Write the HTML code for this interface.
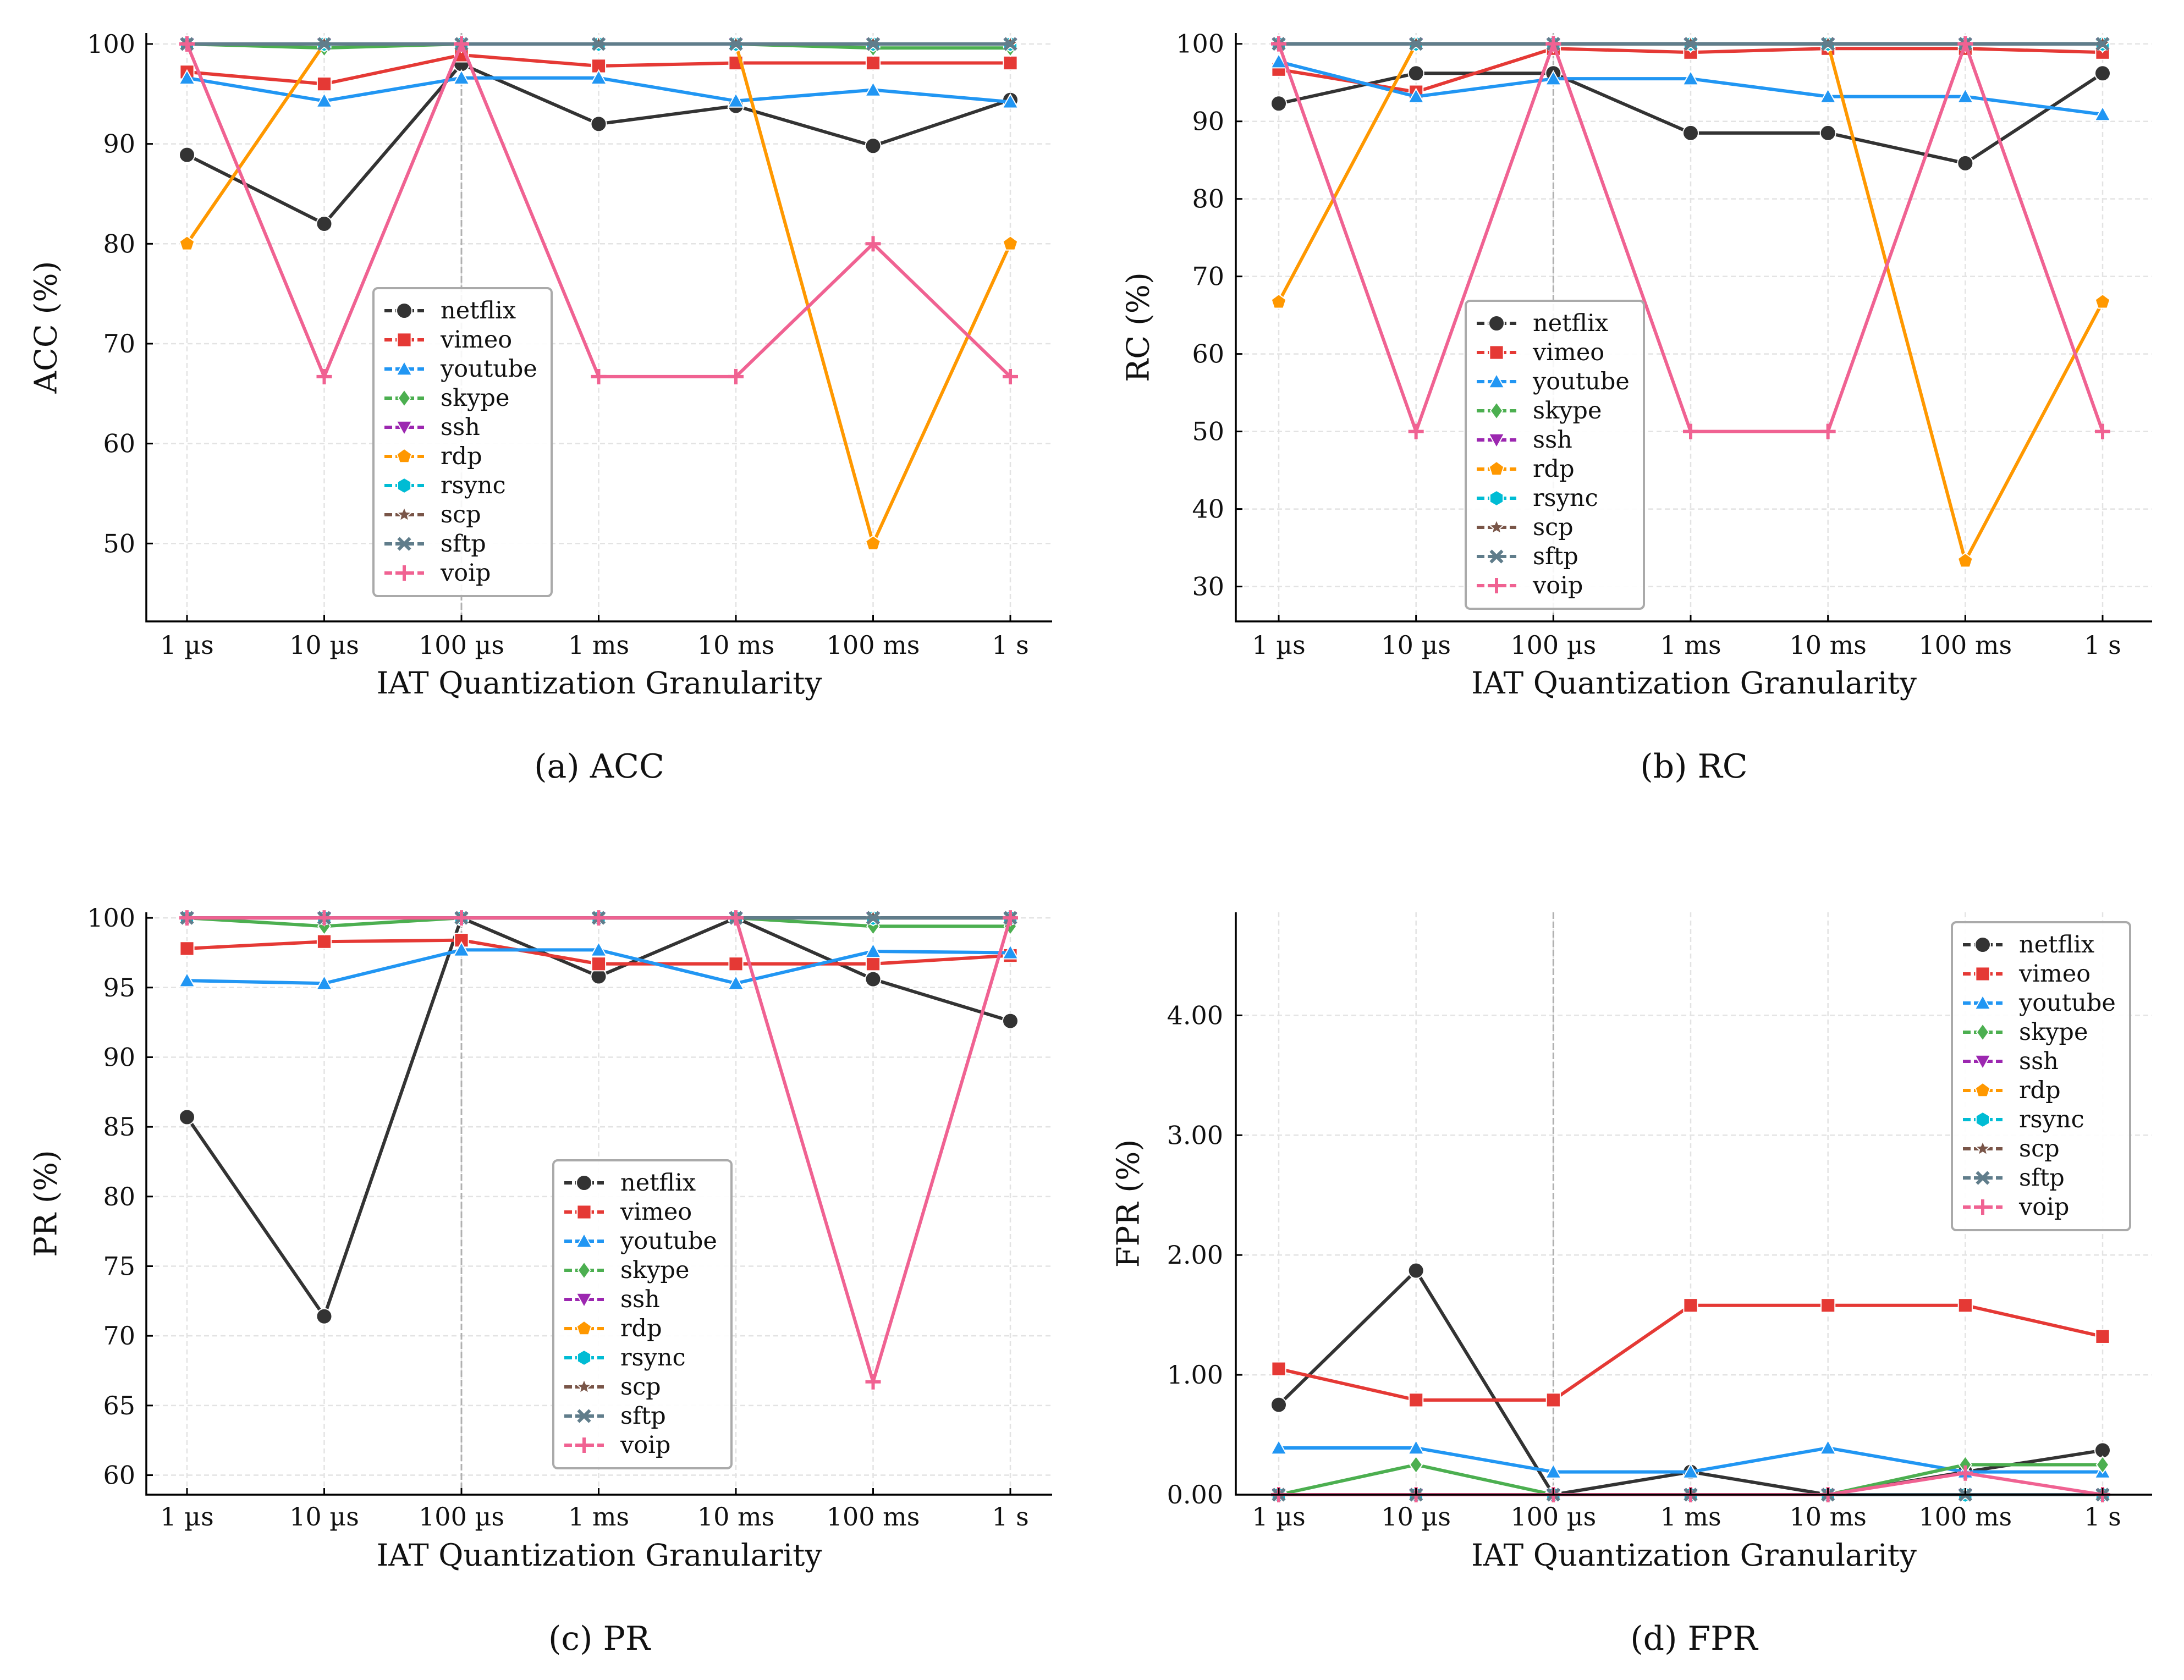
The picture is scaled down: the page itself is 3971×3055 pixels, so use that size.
<!DOCTYPE html>
<html><head><meta charset="utf-8"><style>
html,body{margin:0;padding:0;background:#fff;}
svg{display:block;font-family:"DejaVu Serif","Liberation Serif",serif;}
</style></head><body>
<svg id="chart" width="3971" height="3055" viewBox="0 0 3971 3055" xmlns="http://www.w3.org/2000/svg"></svg>
<script>
const categories = ["1 µs","10 µs","100 µs","1 ms","10 ms","100 ms","1 s"];
const seriesNames = ["netflix","vimeo","youtube","skype","ssh","rdp","rsync","scp","sftp","voip"];
const accNetflix = [88.9,82,98,92,93.8,89.8,94.4];
const accVimeo = [97.2,96,98.9,97.8,98.1,98.1,98.1];
const accYoutube = [96.6,94.3,96.6,96.6,94.3,95.4,94.2];
const accSkype = [100,99.6,100,100,100,99.6,99.6];
const accSsh = [100,100,100,100,100,100,100];
const accRdp = [80,100,100,100,100,50,80];
const accRsync = [100,100,100,100,100,100,100];
const accScp = [100,100,100,100,100,100,100];
const accSftp = [100,100,100,100,100,100,100];
const accVoip = [100,66.7,100,66.7,66.7,80,66.7];
const rcNetflix = [92.3,96.2,96.2,88.5,88.5,84.6,96.2];
const rcVimeo = [96.7,93.8,99.4,98.9,99.4,99.4,98.9];
const rcYoutube = [97.7,93.2,95.5,95.5,93.2,93.2,90.9];
const rcSkype = [100,100,100,100,100,100,100];
const rcSsh = [100,100,100,100,100,100,100];
const rcRdp = [66.7,100,100,100,100,33.3,66.7];
const rcRsync = [100,100,100,100,100,100,100];
const rcScp = [100,100,100,100,100,100,100];
const rcSftp = [100,100,100,100,100,100,100];
const rcVoip = [100,50,100,50,50,100,50];
const prNetflix = [85.7,71.4,100,95.8,100,95.6,92.6];
const prVimeo = [97.8,98.3,98.4,96.7,96.7,96.7,97.3];
const prYoutube = [95.5,95.3,97.7,97.7,95.3,97.6,97.5];
const prSkype = [100,99.4,100,100,100,99.4,99.4];
const prSsh = [100,100,100,100,100,100,100];
const prRdp = [100,100,100,100,100,100,100];
const prRsync = [100,100,100,100,100,100,100];
const prScp = [100,100,100,100,100,100,100];
const prSftp = [100,100,100,100,100,100,100];
const prVoip = [100,100,100,100,100,66.7,100];
const fprNetflix = [0.75,1.87,0,0.19,0,0.19,0.37];
const fprVimeo = [1.05,0.79,0.79,1.58,1.58,1.58,1.32];
const fprYoutube = [0.39,0.39,0.19,0.19,0.39,0.19,0.19];
const fprSkype = [0,0.25,0,0,0,0.25,0.25];
const fprSsh = [0,0,0,0,0,0,0];
const fprRdp = [0,0,0,0,0,0,0];
const fprRsync = [0,0,0,0,0,0,0];
const fprScp = [0,0,0,0,0,0,0];
const fprSftp = [0,0,0,0,0,0,0];
const fprVoip = [0,0,0,0,0,0.18,0];
const accTicks = [50,60,70,80,90,100];
const rcTicks = [30,40,50,60,70,80,90,100];
const prTicks = [60,65,70,75,80,85,90,95,100];
const fprTicks = [0,1,2,3,4];

const colors = ["#333333","#e53935","#2196f3","#4caf50","#9c27b0","#ff9800","#00bcd4","#795548","#607d8b","#f06292"];
const markers = ["o","s","^","D","v","p","h","*","x","+"];
const NS="http://www.w3.org/2000/svg";
const svg=document.getElementById('chart');
function mk(tag,attrs,parent){const e=document.createElementNS(NS,tag);for(const k in attrs)e.setAttribute(k,attrs[k]);(parent||svg).appendChild(e);return e;}

const panels=[
 {key:"acc",data:[accNetflix,accVimeo,accYoutube,accSkype,accSsh,accRdp,accRsync,accScp,accSftp,accVoip],ticks:accTicks,dec:0,
  L:266,R:1913,T:60,B:1130,vTop:101.1,vBot:42.2,x0:340,x6:1837,ylab:"ACC (%)",ylx:84,tickR:246,cap:"(a) ACC",capY:1393,xlY:1241,tkY:1173,lg:[679,524]},
 {key:"rc",data:[rcNetflix,rcVimeo,rcYoutube,rcSkype,rcSsh,rcRdp,rcRsync,rcScp,rcSftp,rcVoip],ticks:rcTicks,dec:0,
  L:2247,R:3913,T:60,B:1130,vTop:101.4,vBot:25.5,x0:2325,x6:3823,ylab:"RC (%)",ylx:2070,tickR:2226,cap:"(b) RC",capY:1393,xlY:1241,tkY:1173,lg:[2665,547]},
 {key:"pr",data:[prNetflix,prVimeo,prYoutube,prSkype,prSsh,prRdp,prRsync,prScp,prSftp,prVoip],ticks:prTicks,dec:0,
  L:266,R:1913,T:1659,B:2718,vTop:100.4,vBot:58.6,x0:340,x6:1837,ylab:"PR (%)",ylx:84,tickR:246,cap:"(c) PR",capY:2979,xlY:2827,tkY:2758,lg:[1006,2110]},
 {key:"fpr",data:[fprNetflix,fprVimeo,fprYoutube,fprSkype,fprSsh,fprRdp,fprRsync,fprScp,fprSftp,fprVoip],ticks:fprTicks,dec:2,
  L:2247,R:3913,T:1659,B:2718,vTop:4.86,vBot:0,x0:2325,x6:3823,ylab:"FPR (%)",ylx:2052,tickR:2224,cap:"(d) FPR",capY:2979,xlY:2827,tkY:2758,lg:[3549,1677]}
];

function marker(g,type,x,y,c,s){
  const r=s/2;let e;
  if(type==="o")e=mk('circle',{cx:x,cy:y,r:r},g);
  else if(type==="s")e=mk('rect',{x:x-r*0.9,y:y-r*0.9,width:r*1.8,height:r*1.8},g);
  else if(type==="^")e=mk('polygon',{points:`${x},${y-r} ${x+r},${y+r*0.8} ${x-r},${y+r*0.8}`},g);
  else if(type==="v")e=mk('polygon',{points:`${x},${y+r} ${x+r},${y-r*0.8} ${x-r},${y-r*0.8}`},g);
  else if(type==="D")e=mk('polygon',{points:`${x},${y-r*1.1} ${x+r*0.8},${y} ${x},${y+r*1.1} ${x-r*0.8},${y}`},g);
  else if(type==="p"||type==="h"||type==="*"){
    const n=type==="p"?5:type==="h"?6:10;let pts=[];
    for(let i=0;i<n;i++){const a=-Math.PI/2+i*2*Math.PI/n;const rr=(type==="*"&&i%2)?r*0.45:r;pts.push((x+rr*Math.cos(a)).toFixed(1)+","+(y+rr*Math.sin(a)).toFixed(1));}
    e=mk('polygon',{points:pts.join(' ')},g);
  } else if(type==="x"){
    e=mk('path',{d:`M${x-r*0.75},${y-r*0.75}L${x+r*0.75},${y+r*0.75}M${x-r*0.75},${y+r*0.75}L${x+r*0.75},${y-r*0.75}`,stroke:c,'stroke-width':6,fill:'none'},g);return e;
  } else if(type==="+"){
    e=mk('path',{d:`M${x-r},${y}L${x+r},${y}M${x},${y-r}L${x},${y+r}`,stroke:c,'stroke-width':6,fill:'none'},g);return e;
  }
  e.setAttribute('fill',c);e.setAttribute('stroke','#fff');e.setAttribute('stroke-width',2);
  return e;
}

panels.forEach(p=>{
  const g=mk('g',{});
  
  
  const ys=v=>p.B-(v-p.vBot)/(p.vTop-p.vBot)*(p.B-p.T);
  const xs=i=>p.x0+i*(p.x6-p.x0)/(categories.length-1);
  p.ticks.forEach(t=>{const l=mk('line',{x1:p.L,x2:p.R,y1:ys(t),y2:ys(t),stroke:'#e3e3e3','stroke-width':2.5,'stroke-dasharray':'9,6'},g);
    });
  categories.forEach((c,i)=>{const l=mk('line',{x1:xs(i),x2:xs(i),y1:p.T,y2:p.B,stroke:'#e3e3e3','stroke-width':2.5,'stroke-dasharray':'9,6'},g);
    });
  const ref=mk('line',{x1:xs(2),x2:xs(2),y1:p.T,y2:p.B,stroke:'#b0b0b0','stroke-width':3,'stroke-dasharray':'12,5'},g);
  
  p.data.forEach((arr,si)=>{
    const sg=mk('g',{},g);
    
    
    mk('polyline',{points:arr.map((v,i)=>xs(i)+','+ys(v)).join(' '),fill:'none',stroke:colors[si],'stroke-width':6,'stroke-linejoin':'round'},sg);
    arr.forEach((v,i)=>{const m=marker(sg,markers[si],xs(i),ys(v),colors[si],28);
      });
  });
  const ax=mk('path',{d:`M${p.L},${p.T}L${p.L},${p.B}L${p.R},${p.B}`,fill:'none',stroke:'#000','stroke-width':3.5},g);
  
  p.ticks.forEach(t=>{
    mk('line',{x1:p.L,x2:p.L+12,y1:ys(t),y2:ys(t),stroke:'#000','stroke-width':3},g);
    const tx=mk('text',{x:p.tickR,y:ys(t)+16,'text-anchor':'end','font-size':46,fill:'#111'},g);
    tx.textContent=t.toFixed(p.dec);
    
  });
  categories.forEach((c,i)=>{
    mk('line',{x1:xs(i),x2:xs(i),y1:p.B,y2:p.B-12,stroke:'#000','stroke-width':3},g);
    const tx=mk('text',{x:xs(i),y:p.tkY+16,'text-anchor':'middle','font-size':46,fill:'#111'},g);
    tx.textContent=c;
    
  });
  const xl=mk('text',{x:(p.L+p.R)/2,y:p.xlY+20,'text-anchor':'middle','font-size':55,fill:'#111'},g);
  xl.textContent="IAT Quantization Granularity";
  
  const cy=(p.T+p.B)/2;
  const yl=mk('text',{x:p.ylx,y:cy,'text-anchor':'middle','font-size':56,fill:'#111',transform:`rotate(-90 ${p.ylx} ${cy})`,'dominant-baseline':'central'},g);
  yl.textContent=p.ylab;
  
  const cp=mk('text',{x:(p.L+p.R)/2,y:p.capY+21,'text-anchor':'middle','font-size':60,fill:'#111'},g);
  cp.textContent=p.cap;
  
  const [lx,ly]=p.lg;
  const lg=mk('g',{},g);
  
  mk('rect',{x:lx,y:ly,width:324,height:560,rx:8,fill:'#fff','fill-opacity':0.9,stroke:'#aaa','stroke-width':4},lg);
  seriesNames.forEach((n,si)=>{
    const ey=ly+41+si*53;
    const eg=mk('g',{},lg);
    
    mk('line',{x1:lx+20,x2:lx+92,y1:ey,y2:ey,stroke:colors[si],'stroke-width':6,'stroke-dasharray':'14,6'},eg);
    marker(eg,markers[si],lx+56,ey,colors[si],28);
    const t=mk('text',{x:lx+122,y:ey+14,'font-size':43,fill:'#111'},eg);
    t.textContent=n;
  });
});
</script>
</body></html>
